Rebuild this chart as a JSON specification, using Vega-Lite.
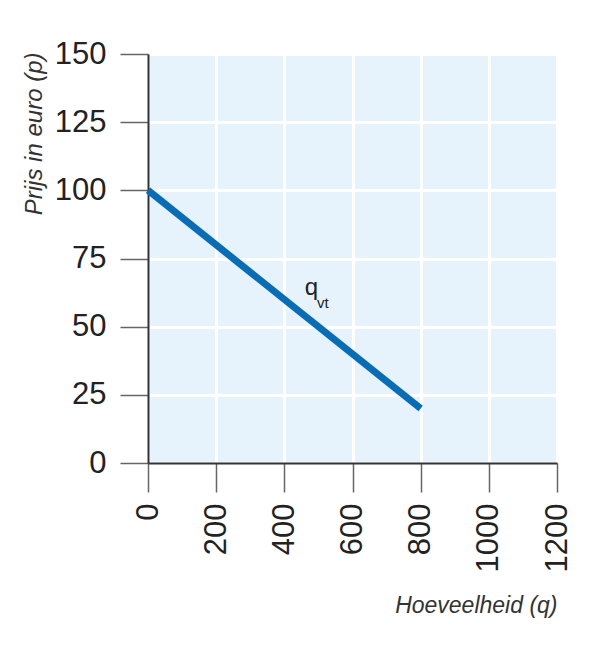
{
  "$schema": "https://vega.github.io/schema/vega-lite/v6.json",
  "width": 409,
  "height": 409,
  "autosize": {"type": "none"},
  "padding": {"left": 148, "top": 54, "right": 33, "bottom": 187},
  "background": "white",
  "config": {
    "view": {"fill": "#e6f3fc", "stroke": null},
    "font": "Liberation Sans"
  },
  "encoding": {
    "x": {
      "field": "q",
      "type": "quantitative",
      "scale": {"domain": [0, 1200], "nice": false, "zero": false},
      "axis": {
        "title": "Hoeveelheid (q)",
        "values": [0, 200, 400, 600, 800, 1000, 1200],
        "format": "d",
        "grid": true,
        "gridColor": "#ffffff",
        "gridWidth": 3,
        "gridOpacity": 1,
        "domainColor": "#333333",
        "domainWidth": 2,
        "tickColor": "#666666",
        "tickWidth": 1.5,
        "tickSize": 29,
        "labelFontSize": 31,
        "labelAngle": -90,
        "labelPadding": 11,
        "labelColor": "#222222",
        "labelFlush": false,
        "labelOverlap": false,
        "titleFontStyle": "italic",
        "titleFontWeight": "normal",
        "titleFontSize": 23,
        "titleColor": "#333333",
        "titleX": 409,
        "titleY": 149,
        "titleAlign": "right",
        "titleBaseline": "alphabetic",
        "titleAngle": 0
      }
    },
    "y": {
      "field": "p",
      "type": "quantitative",
      "scale": {"domain": [0, 150], "nice": false},
      "axis": {
        "title": "Prijs in euro (p)",
        "values": [0, 25, 50, 75, 100, 125, 150],
        "grid": true,
        "gridColor": "#ffffff",
        "gridWidth": 3,
        "gridOpacity": 1,
        "domainColor": "#333333",
        "domainWidth": 2,
        "tickColor": "#666666",
        "tickWidth": 1.5,
        "tickSize": 28,
        "labelFontSize": 31,
        "labelPadding": 14,
        "labelColor": "#222222",
        "labelFlush": false,
        "labelOverlap": false,
        "titleFontStyle": "italic",
        "titleFontWeight": "normal",
        "titleFontSize": 24,
        "titleColor": "#333333",
        "titleAngle": 270,
        "titleX": -107,
        "titleY": -2,
        "titleAlign": "right",
        "titleBaseline": "alphabetic"
      }
    }
  },
  "layer": [
    {
      "data": {"values": [{"q": 0, "p": 100}, {"q": 800, "p": 20}]},
      "mark": {"type": "line", "color": "#0a6db3", "strokeWidth": 7, "strokeCap": "butt"}
    },
    {
      "data": {"values": [{"q": 460, "p": 61.6, "t": "q"}]},
      "mark": {"type": "text", "fontSize": 24, "align": "left", "baseline": "alphabetic", "color": "#222222"},
      "encoding": {"text": {"field": "t"}}
    },
    {
      "data": {"values": [{"q": 496, "p": 56.8, "t": "vt"}]},
      "mark": {"type": "text", "fontSize": 15, "align": "left", "baseline": "alphabetic", "color": "#222222"},
      "encoding": {"text": {"field": "t"}}
    }
  ]
}
